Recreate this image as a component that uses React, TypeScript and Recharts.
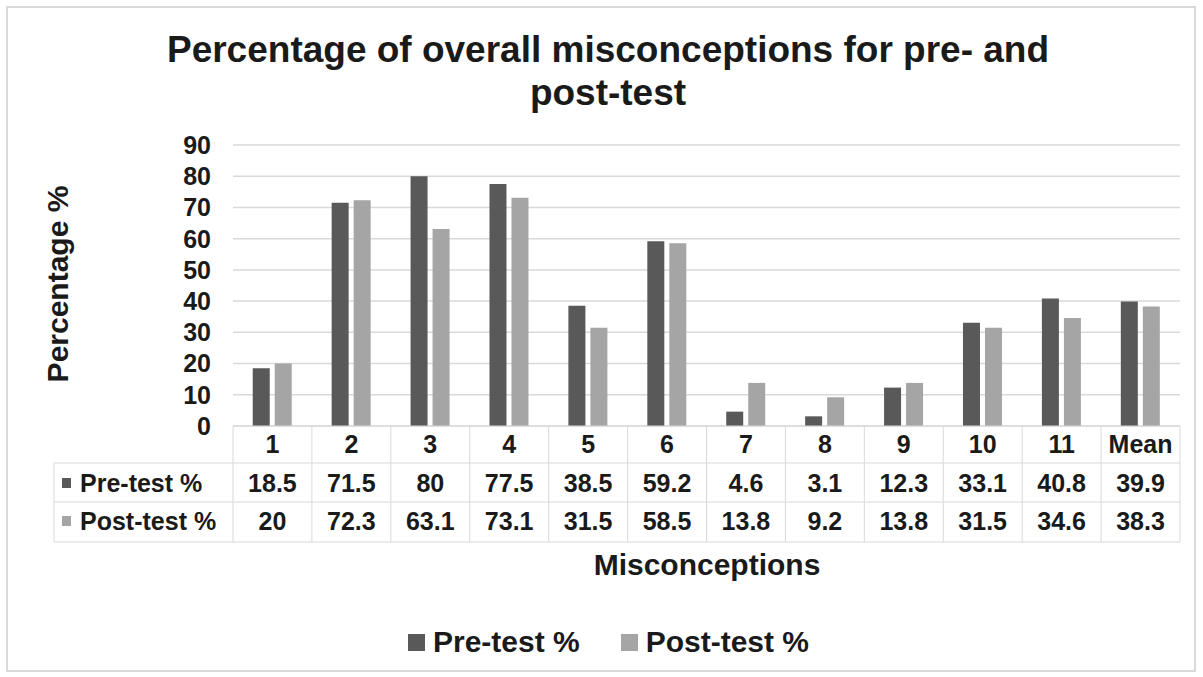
import React from 'react'
import { BarChart, Bar, XAxis, YAxis, CartesianGrid, Legend } from 'recharts'

const categories = ['1', '2', '3', '4', '5', '6', '7', '8', '9', '10', '11', 'Mean']
const preTest = [18.5, 71.5, 80, 77.5, 38.5, 59.2, 4.6, 3.1, 12.3, 33.1, 40.8, 39.9]
const postTest = [20, 72.3, 63.1, 73.1, 31.5, 58.5, 13.8, 9.2, 13.8, 31.5, 34.6, 38.3]
const yTicks = [0, 10, 20, 30, 40, 50, 60, 70, 80, 90]
const seriesNames = ['Pre-test %', 'Post-test %']

const PRE_COLOR = '#595959'
const POST_COLOR = '#a5a5a5'
const TEXT = '#1a1a1a'
const LINE = '#d9d9d9'
const FONT = '"Liberation Sans", Arial, sans-serif'

const W = 1203
const H = 677
const PLOT_LEFT = 233
const PLOT_RIGHT = 1180
const PLOT_TOP = 145
const PLOT_BOTTOM = 426
const AXIS_H = 120
const Y_AXIS_W = 80
const BAND = (PLOT_RIGHT - PLOT_LEFT) / categories.length
const ROWS = [0, 37, 76, 116]
const TABLE_LEFT = 54

const data = categories.map((name, i) => ({ name, pre: preTest[i], post: postTest[i] }))

// x axis ticks draw the data table under the bars, one column per category
function TableTick(props: any) {
  const { x, y, payload } = props
  const i = categories.indexOf(payload.value)
  const l = x - BAND / 2
  const r = x + BAND / 2
  const txt = { fontSize: 25, fontWeight: 700, fill: TEXT, textAnchor: 'middle' as const }
  return (
    <g>
      {ROWS.map((dy) => (
        <line key={dy} x1={l} x2={r} y1={y + dy} y2={y + dy} stroke={LINE} />
      ))}
      <line x1={l} x2={l} y1={y} y2={y + ROWS[3]} stroke={LINE} />
      {i === categories.length - 1 && <line x1={r} x2={r} y1={y} y2={y + ROWS[3]} stroke={LINE} />}
      <text x={x} y={y + 27} {...txt}>{payload.value}</text>
      <text x={x} y={y + 66} {...txt}>{String(preTest[i])}</text>
      <text x={x} y={y + 104} {...txt}>{String(postTest[i])}</text>
      {i === 0 && (
        <g>
          {ROWS.slice(1).map((dy) => (
            <line key={dy} x1={TABLE_LEFT} x2={l} y1={y + dy} y2={y + dy} stroke={LINE} />
          ))}
          <line x1={TABLE_LEFT} x2={TABLE_LEFT} y1={y + ROWS[1]} y2={y + ROWS[3]} stroke={LINE} />
          <rect x={62} y={y + 52} width={9} height={10} fill={PRE_COLOR} />
          <text x={80} y={y + 66} fontSize={25} fontWeight={700} fill={TEXT}>{seriesNames[0]}</text>
          <rect x={62} y={y + 90} width={9} height={10} fill={POST_COLOR} />
          <text x={80} y={y + 104} fontSize={25} fontWeight={700} fill={TEXT}>{seriesNames[1]}</text>
        </g>
      )}
    </g>
  )
}

function LegendContent(props: any) {
  const items = [...(props.payload || [])].sort(
    (a: any, b: any) => seriesNames.indexOf(a.value) - seriesNames.indexOf(b.value)
  )
  return (
    <div style={{ display: 'flex', justifyContent: 'center', gap: 41, paddingLeft: 14, fontFamily: FONT }}>
      {items.map((it: any) => (
        <div key={it.value} style={{ display: 'flex', alignItems: 'center', gap: 8 }}>
          <div style={{ width: 17, height: 17, background: it.color }} />
          <span style={{ fontSize: 30, fontWeight: 700, color: TEXT }}>{it.value}</span>
        </div>
      ))}
    </div>
  )
}

export default function App() {
  return (
    <div style={{ position: 'absolute', left: 0, top: 0, width: W, height: H, background: '#fff' }}>
      <BarChart
        width={W}
        height={H}
        data={data}
        margin={{ top: PLOT_TOP, right: W - PLOT_RIGHT, left: PLOT_LEFT - Y_AXIS_W, bottom: H - PLOT_BOTTOM - AXIS_H }}
        barCategoryGap="25%"
        barGap={5}
        style={{ fontFamily: FONT }}
      >
        <rect x={7} y={7} width={1188} height={664} fill="none" stroke={LINE} strokeWidth={2} />
        <text x={608} y={62} textAnchor="middle" fontSize={37} fontWeight={700} fill={TEXT}>
          Percentage of overall misconceptions for pre- and
        </text>
        <text x={608} y={105} textAnchor="middle" fontSize={37} fontWeight={700} fill={TEXT}>
          post-test
        </text>
        <text transform="translate(68,284) rotate(-90)" textAnchor="middle" fontSize={30} fontWeight={700} fill={TEXT}>
          Percentage %
        </text>
        <text x={707} y={575} textAnchor="middle" fontSize={30} fontWeight={700} fill={TEXT}>
          Misconceptions
        </text>
        <CartesianGrid vertical={false} stroke={LINE} strokeWidth={1.5} />
        <XAxis
          dataKey="name"
          interval={0}
          height={AXIS_H}
          axisLine={false}
          tickLine={false}
          tickSize={0}
          tickMargin={0}
          tick={<TableTick />}
        />
        <YAxis
          domain={[0, 90]}
          ticks={yTicks}
          interval={0}
          width={Y_AXIS_W}
          axisLine={false}
          tickLine={false}
          tickSize={0}
          tickMargin={22}
          tick={{ fontSize: 25, fontWeight: 700, fill: TEXT }}
        />
        <Legend
          content={<LegendContent />}
          wrapperStyle={{ top: 625, left: 0, width: W, height: 0, bottom: 'auto' }}
        />
        <Bar dataKey="pre" name={seriesNames[0]} fill={PRE_COLOR} isAnimationActive={false} />
        <Bar dataKey="post" name={seriesNames[1]} fill={POST_COLOR} isAnimationActive={false} />
      </BarChart>
    </div>
  )
}
